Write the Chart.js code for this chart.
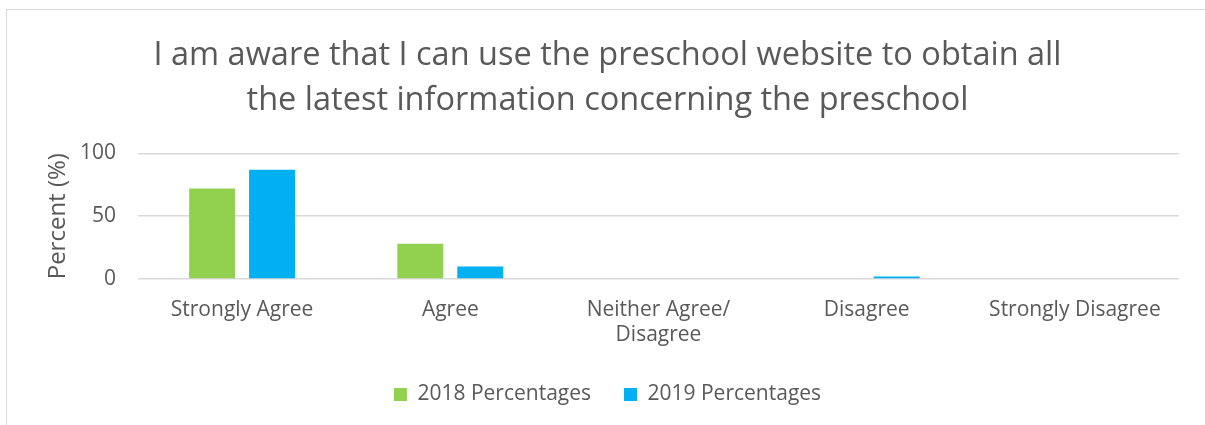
<!DOCTYPE html>
<html lang="en">
<head>
    <meta charset="UTF-8">
    <title>Preschool Website Awareness</title>
    <style>
        body {
            margin: 0;
            background: #fff;
            overflow: hidden;
        }
        .frame {
            position: absolute;
            left: 6px;
            top: 9px;
            width: 1300px;
            height: 500px;
            border: 1px solid #d9d9d9;
        }
        .chart-box {
            position: absolute;
            left: 0;
            top: 0;
            width: 1205px;
            height: 425px;
        }
    </style>
    <script src="https://cdn.jsdelivr.net/npm/chart.js"></script>
</head>
<body>
    <div class="frame"></div>
    <div class="chart-box">
        <canvas id="awarenessChart" width="1205" height="425"></canvas>
    </div>

    <script>
        // Data
        const categories = ['Strongly Agree', 'Agree', ['Neither Agree/', 'Disagree'], 'Disagree', 'Strongly Disagree'];
        const percentages2018 = [72, 28, 0, 0, 0];
        const percentages2019 = [87, 10, 0, 2, 0];
        const yTicks = [0, 50, 100];
        const titleLines = ['I am aware that I can use the preschool website to obtain all', 'the latest information concerning the preschool'];

        const textColor = '#595959';
        const fontFamily = "'Open Sans', sans-serif";

        const ctx = document.getElementById('awarenessChart').getContext('2d');
        new Chart(ctx, {
            type: 'bar',
            data: {
                labels: categories,
                datasets: [
                    {
                        label: '2018 Percentages',
                        data: percentages2018,
                        backgroundColor: '#92d050',
                        categoryPercentage: 0.576,
                        barPercentage: 0.767
                    },
                    {
                        label: '2019 Percentages',
                        data: percentages2019,
                        backgroundColor: '#00b0f0',
                        categoryPercentage: 0.576,
                        barPercentage: 0.767
                    }
                ]
            },
            options: {
                responsive: false,
                animation: false,
                layout: { padding: { left: 10, right: 0, top: 0, bottom: 14 } },
                plugins: {
                    title: {
                        display: true,
                        text: titleLines,
                        color: textColor,
                        font: { family: fontFamily, size: 32.5, weight: 'normal', lineHeight: 1.36 },
                        padding: { top: 34, bottom: 31 }
                    },
                    legend: {
                        position: 'bottom',
                        maxHeight: 60,
                        labels: {
                            color: textColor,
                            font: { family: fontFamily, size: 21 },
                            boxWidth: 13,
                            boxHeight: 13,
                            padding: 33
                        }
                    },
                    tooltip: { enabled: false }
                },
                scales: {
                    x: {
                        grid: { display: false },
                        border: { display: false },
                        ticks: {
                            color: textColor,
                            font: { family: fontFamily, size: 21 },
                            maxRotation: 0,
                            autoSkip: false,
                            padding: 10
                        },
                        afterFit: (scale) => { scale.height = 72; }
                    },
                    y: {
                        min: 0,
                        max: 100,
                        afterBuildTicks: (scale) => { scale.ticks = yTicks.map(v => ({ value: v })); },
                        grid: { color: '#d9d9d9', lineWidth: 1.5, drawTicks: false },
                        border: { display: false },
                        ticks: {
                            color: textColor,
                            font: { family: fontFamily, size: 21 },
                            padding: 22
                        },
                        title: {
                            display: true,
                            text: 'Percent (%)',
                            color: textColor,
                            font: { family: fontFamily, size: 24 },
                            padding: { top: 34, bottom: 0 }
                        },
                        afterFit: (scale) => { scale.width = 128; }
                    },
                    spacer: {
                        position: 'right',
                        display: true,
                        grid: { display: false },
                        border: { display: false },
                        ticks: { display: false },
                        afterFit: (scale) => { scale.width = 26; }
                    }
                }
            }
        });
    </script>
</body>
</html>
